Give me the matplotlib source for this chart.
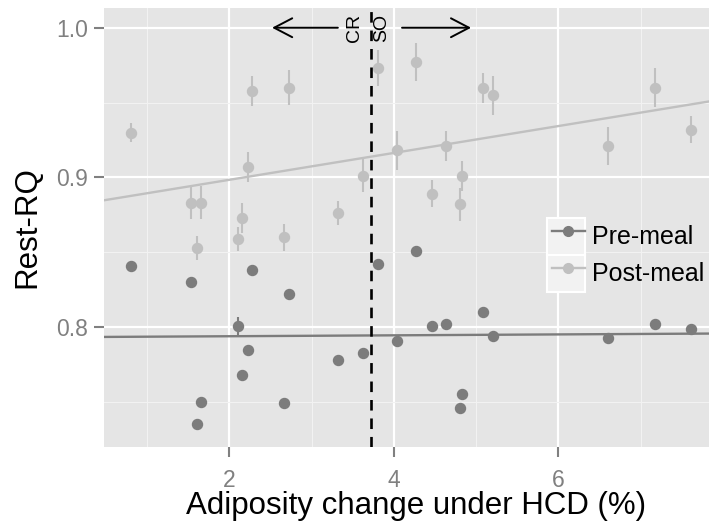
import numpy as np
import matplotlib.pyplot as plt
from matplotlib.legend_handler import HandlerLine2D
from matplotlib.lines import Line2D
from matplotlib.patches import Rectangle

plt.rcParams['font.family'] = ['Liberation Sans', 'DejaVu Sans']

# Data (one entry per mouse)
adiposity = [0.81, 1.53, 1.61, 1.66, 2.11, 2.15, 2.23, 2.28, 2.67, 2.72, 3.32, 3.63,
             3.81, 4.04, 4.27, 4.47, 4.63, 4.81, 4.83, 5.09, 5.21, 6.60, 7.18, 7.61]
pre_rq = [0.841, 0.830, 0.735, 0.750, 0.801, 0.768, 0.785, 0.838, 0.749, 0.822, 0.778, 0.783,
          0.842, 0.791, 0.851, 0.801, 0.802, 0.746, 0.755, 0.810, 0.794, 0.793, 0.802, 0.799]
pre_err = [0.002, 0.002, 0.002, 0.002, 0.006, 0.002, 0.002, 0.002, 0.002, 0.002, 0.002, 0.002,
           0.002, 0.002, 0.002, 0.002, 0.002, 0.002, 0.002, 0.002, 0.002, 0.002, 0.002, 0.002]
post_rq = [0.930, 0.883, 0.853, 0.883, 0.859, 0.873, 0.907, 0.958, 0.860, 0.960, 0.876, 0.901,
           0.973, 0.918, 0.977, 0.889, 0.921, 0.882, 0.901, 0.960, 0.955, 0.921, 0.960, 0.932]
post_err = [0.0065, 0.011, 0.008, 0.011, 0.008, 0.010, 0.0098, 0.010, 0.009, 0.0115, 0.008, 0.011,
            0.012, 0.013, 0.0125, 0.009, 0.0097, 0.011, 0.010, 0.010, 0.013, 0.0128, 0.013, 0.009]
cutoff = 3.72
series = ['Pre-meal', 'Post-meal']
side_labels = ['CR', 'SO']
x_ticks = [2, 4, 6]
y_ticks = [0.8, 0.9, 1.0]

pre_col = '#7c7c7c'
post_col = '#c0c0c0'


class KeyHandler(HandlerLine2D):
    # ggplot style key: light box behind each legend entry
    def legend_artist(self, legend, orig_handle, fontsize, handlebox):
        handlebox.add_artist(Rectangle((-handlebox.xdescent, -handlebox.ydescent),
                                       handlebox.width, handlebox.height,
                                       facecolor='#f2f2f2', edgecolor='white', linewidth=1.5))
        return super().legend_artist(legend, orig_handle, fontsize, handlebox)


fig = plt.figure(figsize=(7.09, 5.25), dpi=100)
ax = fig.add_axes([0.1467, 0.1486, 0.8533, 0.8362])
ax.set_facecolor('#e5e5e5')
for s in ax.spines.values():
    s.set_visible(False)

xlim = (0.477, 7.832)
ax.set_xlim(*xlim)
ax.set_ylim(0.7199, 1.0132)

# grid
ax.set_xticks(x_ticks)
ax.set_yticks(y_ticks)
ax.set_xticks([1, 3, 5, 7], minor=True)
ax.set_yticks([0.75, 0.85, 0.95], minor=True)
ax.grid(which='major', color='white', lw=1.6)
ax.grid(which='minor', color='#f2f2f2', lw=0.8)
ax.set_axisbelow(True)
ax.tick_params(which='major', length=7.5, width=1.5, color='#808080',
               labelcolor='#808080', labelsize=16.5, pad=4)
ax.tick_params(axis='x', which='major', pad=8.5)
ax.tick_params(which='minor', length=0)
ax.set_yticklabels(['%.1f' % v for v in y_ticks])

# linear fits over the full panel
xs = np.array(xlim)
for ys, col in [(pre_rq, pre_col), (post_rq, post_col)]:
    k, b = np.polyfit(adiposity, ys, 1)
    ax.plot(xs, k * xs + b, color=col, lw=1.7, zorder=2)

# points with error bars
ax.errorbar(adiposity, post_rq, yerr=post_err, fmt='o', color=post_col, ms=7.2,
            elinewidth=1.5, capsize=0, zorder=3)
ax.errorbar(adiposity, pre_rq, yerr=pre_err, fmt='o', color=pre_col, ms=7.2,
            elinewidth=1.5, capsize=0, zorder=3)

# cutoff line, arrows and labels
ax.axvline(cutoff, color='black', lw=1.9, dashes=(4, 3), zorder=4)
arrow = dict(arrowstyle='->,head_length=0.65,head_width=0.34', lw=1.4, color='black',
             mutation_scale=20, shrinkA=0, shrinkB=0)
ax.annotate('', xy=(cutoff - 1.2, 1.0), xytext=(cutoff - 0.4, 1.0), arrowprops=arrow)
ax.annotate('', xy=(cutoff + 1.22, 1.0), xytext=(cutoff + 0.38, 1.0), arrowprops=arrow)
ax.text(cutoff - 0.2, 1.0, side_labels[0], rotation=90, fontsize=14, ha='center', va='center')
ax.text(cutoff + 0.13, 1.0, side_labels[1], rotation=90, fontsize=14, ha='center', va='center')

# legend
handles = [Line2D([], [], color=pre_col, marker='o', ms=7, lw=1.7),
           Line2D([], [], color=post_col, marker='o', ms=7, lw=1.7)]
ax.legend(handles, series, loc='upper left', bbox_to_anchor=(0.732, 0.5216),
          frameon=False, fontsize=18, borderpad=0, borderaxespad=0, labelspacing=0,
          handlelength=1.52, handleheight=1.9, handletextpad=0.3,
          handler_map={Line2D: KeyHandler(xpad=0.2)})

ax.set_xlabel('Adiposity change under HCD (%)', fontsize=22.5)
ax.xaxis.set_label_coords(0.516, -0.1)
ax.set_ylabel('Rest-RQ', fontsize=22.5, labelpad=10)

fig.savefig('out.png', dpi=100)
